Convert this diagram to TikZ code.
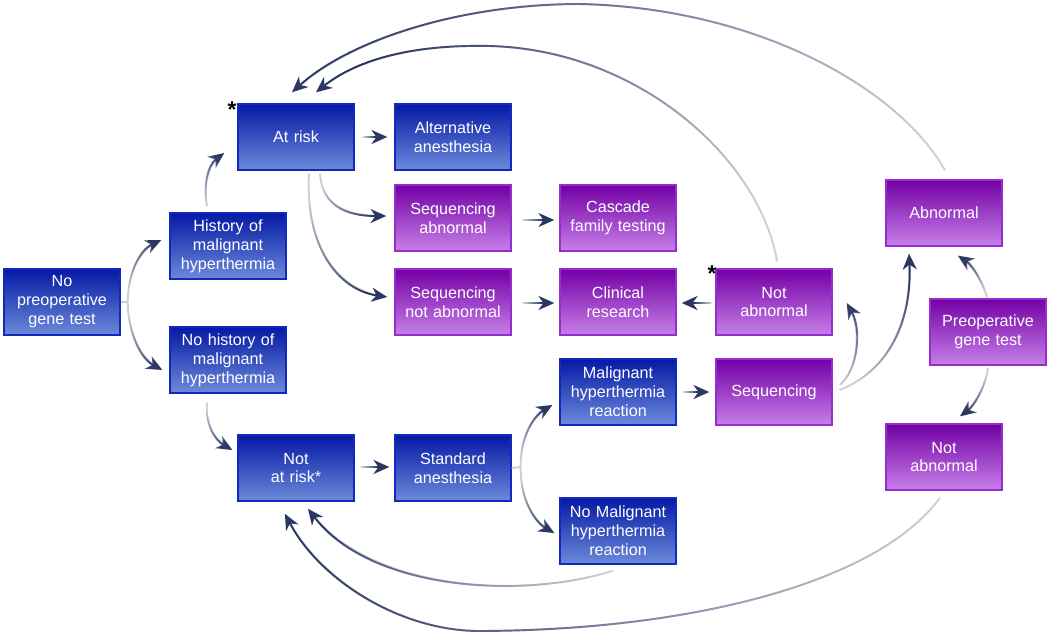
\documentclass[tikz,border=0pt]{standalone}
\usepackage{fontspec}
\setmainfont{Liberation Sans}
\usetikzlibrary{arrows.meta,calc,fadings}
\definecolor{bluetop}{RGB}{5,25,165}
\definecolor{bluebot}{RGB}{108,138,218}
\definecolor{blueline}{RGB}{20,40,190}
\definecolor{purptop}{RGB}{115,0,165}
\definecolor{purpbot}{RGB}{198,128,232}
\definecolor{purpline}{RGB}{150,45,205}
\definecolor{arrdark}{RGB}{42,55,98}
\definecolor{arrlight}{RGB}{205,207,216}
\tikzset{
  box/.style={rectangle, minimum width=2.32cm, minimum height=1.32cm, inner sep=0pt,
    text width=2.25cm, align=center, text=white, font=\fontsize{9.2}{10.8}\selectfont, line width=0.8pt},
  bbox/.style={box, draw=blueline, top color=bluetop, bottom color=bluebot},
  pbox/.style={box, draw=purpline, top color=purptop, bottom color=purpbot},
  arrbase/.style={line width=1.1pt, draw=arrlight, shorten >=3pt},
  arrtop/.style={line width=1.1pt, draw=arrdark, -{Stealth[length=9pt,width=8pt,inset=2.8pt]}},
  stub/.style={line width=1.1pt, draw=arrlight},
  star/.style={font=\bfseries\fontsize{13}{13}\selectfont, text=black, inner sep=0pt}
}
\newcommand\fadearrow[2]{\draw[arrbase] #2; \draw[arrtop, path fading=east, fading angle=#1] #2;}
% straight horizontal arrow: #1 tail, #2 head, #3 = +1 (rightwards) or -1 (leftwards)
\newcommand\rarrow[2]{%
  \shade[left color=arrlight, right color=arrdark] ($#1+(0,-0.97)$) rectangle ($#2+(-12,0.97)$);
  \draw[arrtop] ($#2+(-13,0)$) -- #2;}
\newcommand\larrow[2]{%
  \shade[left color=arrdark, right color=arrlight] ($#2+(12,-0.97)$) rectangle ($#1+(0,0.97)$);
  \draw[arrtop] ($#2+(13,0)$) -- #2;}
\begin{document}
\begin{tikzpicture}[x=0.02cm,y=-0.02cm]
\useasboundingbox (0,0) rectangle (1050,636);
% nodes
\node[bbox] (np) at (62,302) {No\\preoperative\\gene test};
\node[bbox] (hist) at (228,246) {History of\\malignant\\hyperthermia};
\node[bbox] (nohist) at (228,360) {No history of\\malignant\\hyperthermia};
\node[bbox] (atrisk) at (296,137) {At risk};
\node[bbox] (alt) at (453,137) {Alternative\\anesthesia};
\node[pbox] (seqab) at (453,218) {Sequencing\\abnormal};
\node[pbox] (casc) at (618,218) {Cascade\\family testing};
\node[pbox] (seqna) at (453,302) {Sequencing\\not abnormal};
\node[pbox] (clin) at (618,302) {Clinical\\research};
\node[pbox] (nab1) at (774,302) {Not\\abnormal};
\node[pbox] (abn) at (944,213) {Abnormal};
\node[pbox] (preop) at (988,332) {Preoperative\\gene test};
\node[pbox] (nab2) at (944,457) {Not\\abnormal};
\node[bbox] (mhr) at (618,392) {Malignant\\hyperthermia\\reaction};
\node[pbox] (seq) at (774,392) {Sequencing};
\node[bbox] (notrisk) at (296,468) {Not\\at risk*};
\node[bbox] (std) at (453,468) {Standard\\anesthesia};
\node[bbox] (nomhr) at (618,531) {No Malignant\\hyperthermia\\reaction};
\node[star] (s1) at (232,110) {*};
\node[star] (s2) at (712,274) {*};
% fork points
\coordinate (f1) at ($(np.east)+(7,0)$);
\coordinate (f2) at ($(std.east)+(9,-1)$);
\draw[stub] (np.east) -- (f1);
\draw[stub] (std.east) -- (f2);
% curved arrows
\fadearrow{236}{(f1) .. controls (128,272) and (140,250) .. ($(hist.west)+(-8,-6)$)}
\fadearrow{122}{(f1) .. controls (128,332) and (140,358) .. ($(nohist.west)+(-7,10)$)}
\fadearrow{252}{($(hist.north)+(-21,-6)$) .. controls (203,185) and (208,165) .. ($(atrisk.west)+(-13,16)$)}
\fadearrow{147}{($(atrisk.south)+(24,3)$) .. controls (322,205) and (345,216) .. ($(seqab.west)+(-8,-2)$)}
\fadearrow{123}{($(atrisk.south)+(13,3)$) .. controls (305,250) and (340,290) .. ($(seqna.west)+(-7,-5)$)}
\fadearrow{-20}{($(nab1.north)+(3,-7)$) .. controls (760,160) and (640,50) .. (490,46) .. controls (400,44) and (350,65) .. ($(atrisk.north)+(20,-11)$)}
\fadearrow{-7}{($(abn.north)+(1,-9)$) .. controls (900,90) and (760,8) .. (580,4) .. controls (460,4) and (350,40) .. ($(atrisk.north)+(-4,-11)$)}
\fadearrow{265}{($(seq.east)+(7,-7)$) .. controls (858,370) and (862,330) .. ($(nab1.east)+(14,1)$)}
\fadearrow{243}{($(seq.east)+(7,-2)$) .. controls (890,370) and (912,320) .. ($(abn.south)+(-35,7)$)}
\fadearrow{-56}{($(preop.north)+(-1,-1)$) .. controls (982,280) and (972,265) .. ($(abn.south)+(14,9)$)}
\fadearrow{61}{($(preop.south)+(0,2)$) .. controls (986,385) and (975,405) .. ($(nab2.north)+(16,-7)$)}
\fadearrow{1}{($(nab2.south)+(-4,7)$) .. controls (880,580) and (700,630) .. (480,631) .. controls (400,631) and (320,580) .. ($(notrisk.south)+(-11,12)$)}
\fadearrow{-11}{($(nomhr.south)+(-5,6)$) .. controls (520,600) and (370,590) .. ($(notrisk.south)+(12,7)$)}
\fadearrow{119}{($(nohist.south)+(-21,9)$) .. controls (205,425) and (215,440) .. ($(notrisk.west)+(-5,-18)$)}
\fadearrow{242}{(f2) .. controls (520,435) and (535,415) .. ($(mhr.west)+(-7,13)$)}
\fadearrow{118}{(f2) .. controls (520,500) and (535,522) .. ($(nomhr.west)+(-5,2)$)}
% straight arrows
\rarrow{($(atrisk.east)+(8,0)$)}{($(alt.west)+(-7,0)$)}
\rarrow{($(seqab.east)+(11,2)$)}{($(casc.west)+(-5,2)$)}
\rarrow{($(seqna.east)+(11,1)$)}{($(clin.west)+(-5,1)$)}
\larrow{($(nab1.west)+(-4,1)$)}{($(clin.east)+(5,1)$)}
\rarrow{($(notrisk.east)+(6,-1)$)}{($(std.west)+(-5,-1)$)}
\rarrow{($(mhr.east)+(6,0)$)}{($(seq.west)+(-6,0)$)}
\end{tikzpicture}
\end{document}
